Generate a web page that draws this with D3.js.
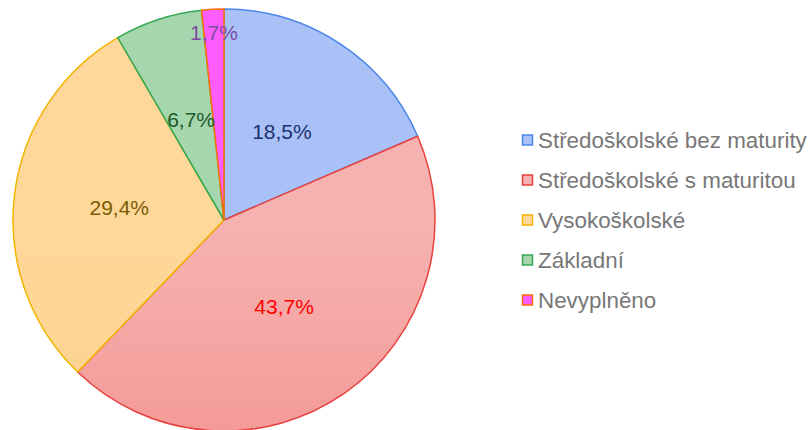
<!DOCTYPE html>
<html>
<head>
<meta charset="utf-8">
<script src="https://cdn.jsdelivr.net/npm/d3@7"></script>
<style>
  body { margin: 0; background: #fff; }
  svg { display: block; font-family: "Liberation Sans", Arial, sans-serif; }
</style>
</head>
<body>
<script>
// data
const categories = ["Středoškolské bez maturity", "Středoškolské s maturitou", "Vysokoškolské", "Základní", "Nevyplněno"];
const values = [18.5, 43.7, 29.4, 6.7, 1.7];
const labels = ["18,5%", "43,7%", "29,4%", "6,7%", "1,7%"];

// colours: [top of gradient, bottom of gradient, stroke, label]
const fillTop = ["#aac1f7", "#f6b2b0", "#fed89a", "#a6d6ad", "#ff5cff"];
const fillBottom = ["#93aff5", "#f18280", "#fdca80", "#95cc9c", "#ff5cff"];
const strokes = ["#4a86e8", "#e8403a", "#f4b400", "#34a853", "#ff6d00"];
const labelColors = ["#1c3170", "#ff0000", "#7a5b00", "#1e5a2a", "#7b4da5"];

const width = 809;
const height = 430;
const cx = 224, cy = 220, radius = 211;

const svg = d3.select("body").append("svg")
    .attr("width", width)
    .attr("height", height);

const defs = svg.append("defs");
categories.forEach((c, i) => {
    const g = defs.append("linearGradient")
        .attr("id", "grad" + i)
        .attr("gradientUnits", "userSpaceOnUse")
        .attr("x1", 0).attr("y1", cy - radius)
        .attr("x2", 0).attr("y2", cy + radius);
    g.append("stop").attr("offset", "0%").attr("stop-color", fillTop[i]);
    g.append("stop").attr("offset", "100%").attr("stop-color", fillBottom[i]);
});

const pie = d3.pie().sort(null).value(d => d)(values);
const arc = d3.arc().innerRadius(0).outerRadius(radius);

const chart = svg.append("g").attr("transform", `translate(${cx},${cy})`);

chart.selectAll("path")
    .data(pie)
    .enter().append("path")
    .attr("d", arc)
    .attr("fill", (d, i) => `url(#grad${i})`)
    .attr("stroke", (d, i) => strokes[i])
    .attr("stroke-width", 1.5)
    .attr("stroke-linejoin", "round");

// small slices get their label pushed out towards the rim
function labelRadius(d) {
    const share = (d.endAngle - d.startAngle) / (2 * Math.PI);
    return share < 0.05 ? radius * 0.89 : radius * 0.5;
}

chart.selectAll("text.lbl")
    .data(pie)
    .enter().append("text")
    .attr("class", "lbl")
    .attr("x", d => Math.sin((d.startAngle + d.endAngle) / 2) * labelRadius(d))
    .attr("y", d => -Math.cos((d.startAngle + d.endAngle) / 2) * labelRadius(d))
    .attr("text-anchor", "middle")
    .attr("dominant-baseline", "central")
    .attr("font-size", 21)
    .attr("fill", (d, i) => labelColors[i])
    .text((d, i) => labels[i]);

// legend
const legend = svg.append("g").attr("transform", "translate(522,140)");
const rows = legend.selectAll("g")
    .data(categories)
    .enter().append("g")
    .attr("transform", (d, i) => `translate(0,${i * 40})`);

rows.append("rect")
    .attr("x", 0.5).attr("y", -5)
    .attr("width", 10).attr("height", 10)
    .attr("fill", (d, i) => fillTop[i])
    .attr("stroke", (d, i) => strokes[i])
    .attr("stroke-width", 1.5);

rows.append("text")
    .attr("x", 16)
    .attr("dominant-baseline", "central")
    .attr("font-size", 22.4)
    .attr("fill", "#777")
    .text(d => d);
</script>
</body>
</html>
